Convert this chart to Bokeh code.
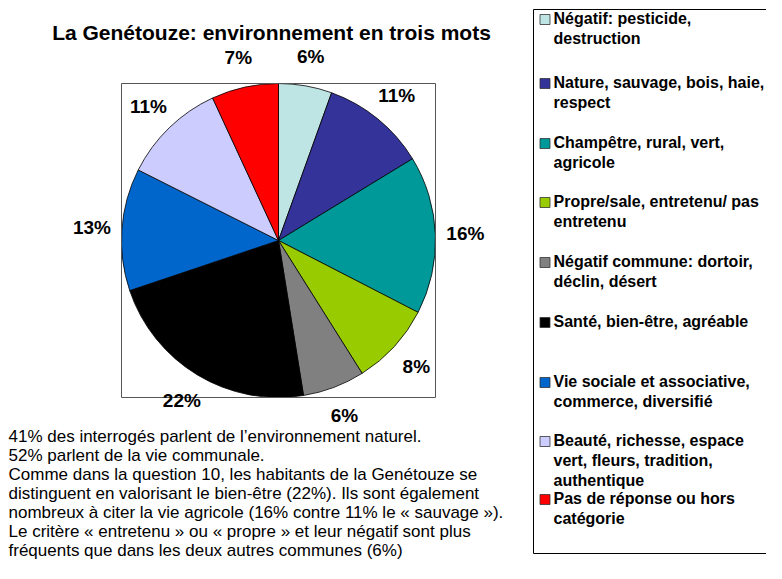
from math import pi, cos, sin
from bokeh.plotting import figure
from bokeh.models import Range1d, ColumnDataSource
from bokeh.core.properties import value
from bokeh.embed import file_html
from bokeh.resources import INLINE

# ---------------- data ----------------
title = "La Genétouze: environnement en trois mots"
categories = [
    "Négatif: pesticide,\ndestruction",
    "Nature, sauvage, bois, haie,\nrespect",
    "Champêtre, rural, vert,\nagricole",
    "Propre/sale, entretenu/ pas\nentretenu",
    "Négatif commune: dortoir,\ndéclin, désert",
    "Santé, bien-être, agréable",
    "Vie sociale et associative,\ncommerce, diversifié",
    "Beauté, richesse, espace\nvert, fleurs, tradition,\nauthentique",
    "Pas de réponse ou hors\ncatégorie",
]
shares = [5.5, 10.8, 16.3, 8.5, 6.4, 22.4, 12.6, 10.7, 6.9]
pct_labels = ["6%", "11%", "16%", "8%", "6%", "22%", "13%", "11%", "7%"]
colors = ["#BFE4E4", "#333399", "#009999", "#99CC00", "#808080",
          "#000000", "#0066CC", "#CCCCFF", "#FF0000"]
notes = [
    "41% des interrogés parlent de l’environnement naturel.",
    "52% parlent de la vie communale.",
    "Comme dans la question 10, les habitants de la Genétouze se",
    "distinguent en valorisant le bien-être (22%). Ils sont également",
    "nombreux à citer la vie agricole (16% contre 11% le « sauvage »).",
    "Le critère « entretenu » ou « propre » et leur négatif sont plus",
    "fréquents que dans les deux autres communes (6%)",
]

# ---------------- layout (pixel coords from top-left) ----------------
W, H = 766, 563
def Y(y_img):
    return H - y_img

FONT = value("Liberation Sans")
cx, cy_img, r = 278, 240, 157
cy = Y(cy_img)
label_r = 187
legend_y = [18, 82, 142, 201, 261, 321, 381, 440, 498]
legend_sq_x, legend_txt_x = 544.5, 553
line_step = 20
notes_top, notes_step = 436, 19

p = figure(width=W, height=H, output_backend="svg", toolbar_location=None,
           x_range=Range1d(0, W), y_range=Range1d(0, H),
           min_border=0, outline_line_color=None)
p.axis.visible = False
p.grid.visible = False
p.background_fill_color = "white"
p.border_fill_color = "white"

# pie
total = sum(shares)
starts, ends, mids = [], [], []
acc = 0.0
for s in shares:
    a0 = pi / 2 - 2 * pi * acc / total
    acc += s
    a1 = pi / 2 - 2 * pi * acc / total
    starts.append(a0)
    ends.append(a1)
    mids.append((a0 + a1) / 2)

src = ColumnDataSource(dict(start=starts, end=ends, color=colors))
p.wedge(x=cx, y=cy, radius=r, start_angle="start", end_angle="end",
        direction="clock", fill_color="color", line_color="black",
        line_width=0.8, source=src)

# plot-area frame around pie
p.quad(left=cx - r, right=cx + r, top=cy + r, bottom=cy - r,
       fill_color=None, line_color="#555555", line_width=1)

# percentage labels
lx = [cx + label_r * cos(m) for m in mids]
ly = [cy + label_r * sin(m) for m in mids]
p.text(x=lx, y=ly, text=pct_labels, text_font=FONT, text_font_size="19px",
       text_font_style="bold", text_align="center", text_baseline="middle",
       text_color="black")

# title
p.text(x=[271], y=[Y(32)], text=[title], text_font=FONT, text_font_size="21px",
       text_font_style="bold", text_align="center", text_baseline="middle",
       text_color="black")

# legend box
p.quad(left=533, right=800, top=Y(9), bottom=Y(553), fill_color=None,
       line_color="black", line_width=1)
p.rect(x=[legend_sq_x] * len(colors), y=[Y(v + 1) for v in legend_y], width=10,
       height=10, fill_color=colors, line_color="#333333", line_width=0.8)
tx, ty, tt = [], [], []
for yc, cat in zip(legend_y, categories):
    for i, ln in enumerate(cat.split("\n")):
        tx.append(legend_txt_x)
        ty.append(Y(yc + i * line_step))
        tt.append(ln)
p.text(x=tx, y=ty, text=tt, text_font=FONT, text_font_size="16px",
       text_font_style="bold", text_align="left", text_baseline="middle",
       text_color="black")

# notes
p.text(x=[8] * len(notes), y=[Y(notes_top + i * notes_step) for i in range(len(notes))],
       text=notes, text_font=FONT, text_font_size="17px", text_align="left",
       text_baseline="middle", text_color="black")

open("out.html", "w").write(file_html(p, INLINE))
